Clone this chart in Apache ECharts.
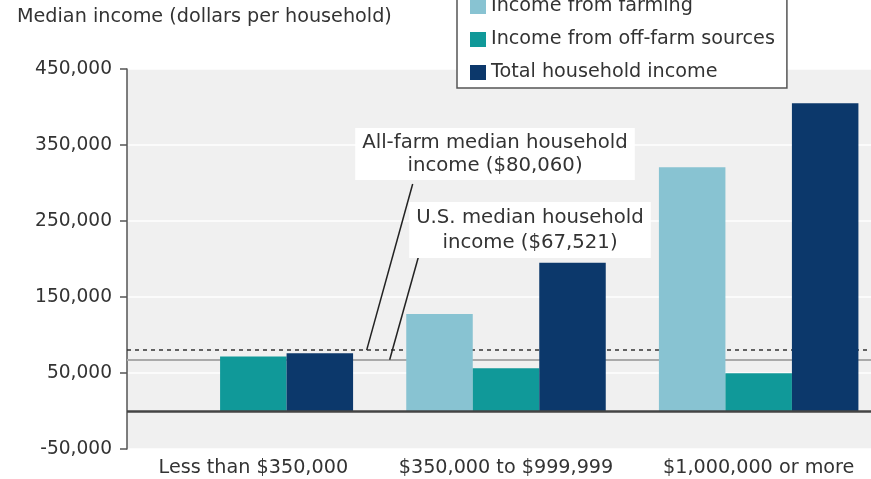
<!DOCTYPE html>
<html><head><meta charset="utf-8">
<script src="https://cdn.jsdelivr.net/npm/echarts@6/dist/echarts.min.js"></script>
<style>html,body{margin:0;padding:0;background:#fff}#c{width:871px;height:479px}</style>
</head><body><div id="c"></div>
<script>
const categories = ['Less than $350,000', '$350,000 to $999,999', '$1,000,000 or more'];
const seriesNames = ['Income from farming', 'Income from off-farm sources', 'Total household income'];
const farmIncome = [0, 127600, 320600];
const offFarmIncome = [71800, 56200, 49600];
const totalIncome = [76100, 195100, 404900];
const allFarmMedian = 80060;
const usMedian = 67521;
const yMin = -50000, yMax = 450000, yInterval = 100000;
const axisTitle = 'Median income (dollars per household)';
const noteAllFarm = 'All-farm median household\nincome ($80,060)';
const noteUS = 'U.S. median household\nincome ($67,521)';

const FONT = '"DejaVu Sans", sans-serif';
const FS = 19.2;
const TXT = '#333';
const colors = ['#88c3d2', '#109999', '#0c386b'];

const chart = echarts.init(document.getElementById('c'), null, {renderer: 'canvas'});

function barSeries(name, data, color) {
  return {
    name: name, type: 'bar', data: data, z: 3,
    barWidth: 66.5, barGap: '0%',
    itemStyle: {color: color}
  };
}

chart.setOption({
  animation: false,
  textStyle: {fontFamily: FONT},
  title: {
    text: axisTitle, left: 17, top: 8, padding: 0,
    textStyle: {fontFamily: FONT, fontSize: FS, fontWeight: 'normal', color: TXT}
  },
  legend: {
    orient: 'vertical', left: 457, top: -11,
    padding: [8, 12, 6, 13],
    backgroundColor: '#fff', borderColor: '#555', borderWidth: 1.5,
    itemWidth: 16, itemHeight: 15, itemGap: 14, icon: 'rect',
    data: seriesNames,
    textStyle: {fontFamily: FONT, fontSize: FS, lineHeight: 19, color: TXT}
  },
  grid: {
    left: 127, width: 758, top: 69, bottom: 30,
    outerBoundsMode: 'none', containLabel: false,
    show: true, backgroundColor: '#f0f0f0', borderWidth: 0
  },
  xAxis: {
    type: 'category', data: categories,
    axisLine: {show: false, onZero: false},
    axisTick: {show: false},
    splitLine: {show: false},
    axisLabel: {fontFamily: FONT, fontSize: FS, color: TXT, margin: 10, interval: 0}
  },
  yAxis: {
    type: 'value', min: yMin, max: yMax, interval: yInterval,
    axisLine: {show: true, lineStyle: {color: '#555', width: 1.5}},
    axisTick: {show: true, inside: false, length: 7, lineStyle: {color: '#555', width: 1.5}},
    splitLine: {show: true, lineStyle: {color: '#fff', width: 1.5}},
    axisLabel: {
      fontFamily: FONT, fontSize: 18.6, color: TXT, margin: 15,
      formatter: v => v.toLocaleString('en-US')
    }
  },
  series: [
    {
      name: '', type: 'line', data: [], z: 1, silent: true,
      markLine: {
        z: 1, silent: true, symbol: 'none', label: {show: false},
        data: [
          {yAxis: usMedian, lineStyle: {color: '#aaa', width: 2, type: 'solid'}},
          {yAxis: allFarmMedian, lineStyle: {color: '#333', width: 1.5, type: [4, 4]}}
        ]
      }
    },
    barSeries(seriesNames[0], farmIncome, colors[0]),
    barSeries(seriesNames[1], offFarmIncome, colors[1]),
    barSeries(seriesNames[2], totalIncome, colors[2]),
    {
      name: '', type: 'line', data: [], z: 4, silent: true,
      markLine: {
        z: 5, silent: true, symbol: 'none', label: {show: false},
        data: [{yAxis: 0, lineStyle: {color: '#444', width: 2.5, type: 'solid'}}]
      }
    }
  ]
});

// annotations anchored to the data scales
const yAll = chart.convertToPixel({yAxisIndex: 0}, allFarmMedian);
const yUS = chart.convertToPixel({yAxisIndex: 0}, usMedian);
const xc0 = chart.convertToPixel({xAxisIndex: 0}, categories[0]);
const xc1 = chart.convertToPixel({xAxisIndex: 0}, categories[1]);
const xb = (xc0 + xc1) / 2;

chart.setOption({
  graphic: [
    {type: 'line', z: 10, shape: {x1: xb + 33, y1: 184, x2: xb - 13, y2: yAll},
     style: {stroke: '#222', lineWidth: 1.5}},
    {type: 'line', z: 10, shape: {x1: xb + 39, y1: 256, x2: xb + 10, y2: yUS},
     style: {stroke: '#222', lineWidth: 1.5}},
    {type: 'text', z: 11, x: 495, y: 154,
     style: {text: noteAllFarm, font: '19.7px ' + FONT, fill: TXT, align: 'center', verticalAlign: 'middle',
             lineHeight: 23, backgroundColor: '#fff', padding: [3, 7]}},
    {type: 'text', z: 11, x: 530, y: 230,
     style: {text: noteUS, font: '19.7px ' + FONT, fill: TXT, align: 'center', verticalAlign: 'middle',
             lineHeight: 25, backgroundColor: '#fff', padding: [3, 7]}}
  ]
});
</script></body></html>
